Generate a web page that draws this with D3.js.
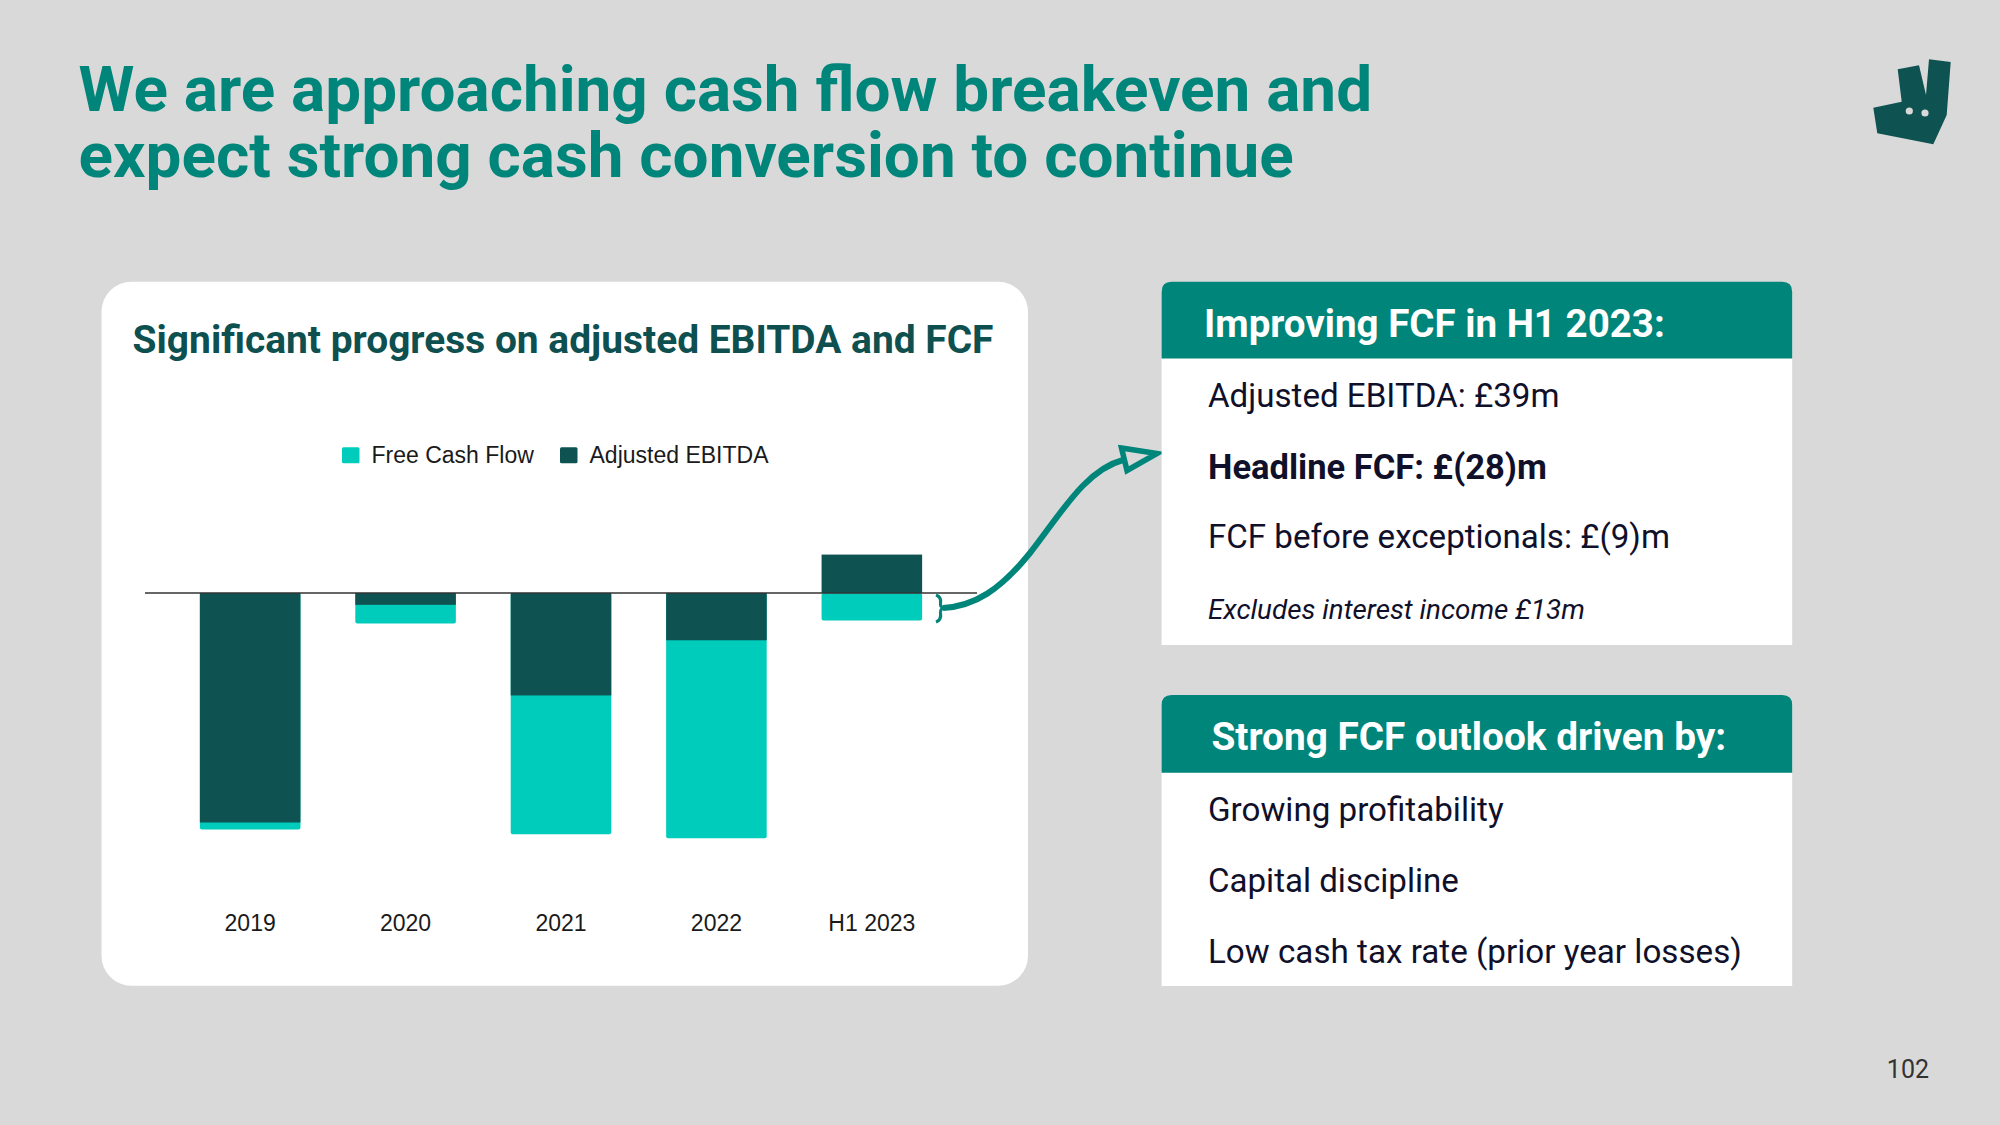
<!DOCTYPE html>
<html>
<head>
<meta charset="utf-8">
<script src="https://cdn.jsdelivr.net/npm/d3@7"></script>
<style>
  html, body { margin: 0; padding: 0; background: #d9d9d9; }
  svg { display: block; }
</style>
</head>
<body>
<svg id="chart" width="2000" height="1125"></svg>
<script>
// ---- data ----
const categories = ["2019", "2020", "2021", "2022", "H1 2023"];
const freeCashFlow = [-240, -31, -245, -249, -28];     // £m
const adjustedEbitda = [-233, -12, -104, -48, 39];     // £m
const seriesNames = ["Free Cash Flow", "Adjusted EBITDA"];
const titleLines = ["We are approaching cash flow breakeven and", "expect strong cash conversion to continue"];
const chartTitle = "Significant progress on adjusted EBITDA and FCF";
const box1Header = "Improving FCF in H1 2023:";
const box1Lines = ["Adjusted EBITDA: £39m", "Headline FCF: £(28)m", "FCF before exceptionals: £(9)m", "Excludes interest income £13m"];
const box2Header = "Strong FCF outlook driven by:";
const box2Lines = ["Growing profitability", "Capital discipline", "Low cash tax rate (prior year losses)"];
const pageNumber = "102";

// ---- styles ----
const BG = "#d9d9d9", TEAL = "#00857a", DARK = "#0e5252", LIGHT = "#00ccbc", INK = "#10102a";

const svg = d3.select("#chart");
svg.append("rect").attr("width", 2000).attr("height", 1125).attr("fill", BG);

function fit(sel, targetW) {
  const w = sel.node().getComputedTextLength();
  const fs = parseFloat(sel.attr("font-size"));
  sel.attr("font-size", (fs * targetW / w).toFixed(2));
  return sel;
}

// ---- page title (one text element, two lines) ----
const title = svg.append("text")
  .attr("font-family", "Roboto").attr("font-weight", 700).attr("font-size", 64)
  .attr("fill", TEAL);
const tspans = titleLines.map((t, i) => title.append("tspan").attr("x", 78.6).attr("y", i === 0 ? 111 : 177).text(t));
{
  const w = tspans[0].node().getComputedTextLength();
  title.attr("font-size", (64 * 1293.6 / w).toFixed(2));
}

// ---- logo ----
const logo = svg.append("g");
logo.append("path")
  .attr("d", "M1897.7,69.3 L1919,65.3 L1926,95 L1929,59.3 L1950.7,62 L1946.7,115 L1933.3,144.3 L1877.3,133.3 L1873.3,107.7 L1901.7,101.7 Z")
  .attr("fill", DARK);
logo.append("circle").attr("cx", 1909.3).attr("cy", 111).attr("r", 3.6).attr("fill", BG);
logo.append("circle").attr("cx", 1925).attr("cy", 113).attr("r", 3.6).attr("fill", BG);

// ---- chart card ----
svg.append("rect").attr("x", 101.5).attr("y", 281.7).attr("width", 926.5).attr("height", 704)
  .attr("rx", 30).attr("fill", "#ffffff");

fit(svg.append("text").attr("x", 132.6).attr("y", 352.7)
  .attr("font-family", "Roboto").attr("font-weight", 700).attr("font-size", 38)
  .attr("fill", "#0e4f50").text(chartTitle), 861);

// legend
const legendX = [342, 560];
const legendColors = [LIGHT, DARK];
seriesNames.forEach((n, i) => {
  svg.append("rect").attr("x", legendX[i]).attr("y", 447.2).attr("width", 17.5).attr("height", 16)
    .attr("rx", 1.5).attr("fill", legendColors[i]);
  svg.append("text").attr("x", legendX[i] + 29.5).attr("y", 462.5)
    .attr("font-family", "Liberation Sans, Arial, sans-serif").attr("font-size", 23)
    .attr("fill", "#1a1a1a").text(n);
});

// scales
const x = d3.scaleBand().domain(categories).range([145, 977]).padding(0.353);
const y = d3.scaleLinear().domain([0, -250]).range([593, 593 + 246.25]);

const rows = categories.map((c, i) => ({ c, fcf: freeCashFlow[i], ebitda: adjustedEbitda[i] }));

// FCF bars (behind)
svg.append("g").selectAll("rect").data(rows).join("rect")
  .attr("x", d => x(d.c)).attr("width", x.bandwidth())
  .attr("y", d => Math.min(y(0), y(d.fcf)))
  .attr("height", d => Math.abs(y(d.fcf) - y(0)))
  .attr("rx", 2)
  .attr("fill", LIGHT);

// EBITDA bars (front)
svg.append("g").selectAll("rect").data(rows).join("rect")
  .attr("x", d => x(d.c)).attr("width", x.bandwidth())
  .attr("y", d => Math.min(y(0), y(d.ebitda)))
  .attr("height", d => Math.abs(y(d.ebitda) - y(0)))
  .attr("fill", DARK);

// zero line
svg.append("line").attr("x1", 145).attr("x2", 977).attr("y1", y(0)).attr("y2", y(0))
  .attr("stroke", "#333").attr("stroke-width", 1.5);

// category axis
const axis = svg.append("g").attr("transform", "translate(0,914.4)")
  .call(d3.axisBottom(x).tickSize(0).tickPadding(0));
axis.select(".domain").remove();
axis.selectAll("text").attr("font-family", "Liberation Sans, Arial, sans-serif")
  .attr("font-size", 23).attr("fill", "#1a1a1a");

// ---- arrow from H1 2023 FCF to box ----
svg.append("path")
  .attr("d", "M936,595 Q941.5,597 940.5,603 Q940,608 945,608 Q940,608 940.5,613 Q941.5,620 936,622")
  .attr("fill", "none").attr("stroke", TEAL).attr("stroke-width", 3.2);
svg.append("path")
  .attr("d", "M943,608 C975,606 1000,590 1030,553 C1060,515 1085,470 1123,460")
  .attr("fill", "none").attr("stroke", TEAL).attr("stroke-width", 6);
svg.append("path")
  .attr("d", "M1121.5,448 L1157,453.5 L1127,470.5 Z")
  .attr("fill", BG).attr("stroke", TEAL).attr("stroke-width", 5.5).attr("stroke-linejoin", "miter");

// ---- info boxes ----
function headerPath(x0, y0, w, h, r) {
  return `M${x0},${y0 + h} L${x0},${y0 + r} Q${x0},${y0} ${x0 + r},${y0} L${x0 + w - r},${y0} Q${x0 + w},${y0} ${x0 + w},${y0 + r} L${x0 + w},${y0 + h} Z`;
}
function box(top, headerBottom, bottom, header, headerX, headerBase, headerW, lines, lineBases, lineWs, lineStyles) {
  const bx = 1161.6, bw = 630.6;
  svg.append("rect").attr("x", bx).attr("y", top + 8).attr("width", bw).attr("height", bottom - top - 8).attr("fill", "#fff");
  svg.append("path").attr("d", headerPath(bx, top, bw, headerBottom - top, 10)).attr("fill", TEAL);
  fit(svg.append("text").attr("x", headerX).attr("y", headerBase)
    .attr("font-family", "Roboto").attr("font-weight", 700).attr("font-size", 37)
    .attr("fill", "#fff").text(header), headerW);
  lines.forEach((t, i) => {
    const st = lineStyles[i];
    const s = svg.append("text").attr("x", 1208).attr("y", lineBases[i])
      .attr("font-family", "Roboto").attr("font-weight", st.w).attr("font-style", st.i ? "italic" : "normal")
      .attr("font-size", st.fs).attr("fill", INK).text(t);
    fit(s, lineWs[i]);
  });
}
box(281.7, 358.5, 645, box1Header, 1204, 336.7, 461,
  box1Lines, [407.3, 479, 548.3, 619.3], [351.6, 339, 462, 377],
  [{ w: 400, fs: 33 }, { w: 700, fs: 33 }, { w: 400, fs: 33 }, { w: 400, fs: 25, i: true }]);
box(695, 772.7, 986, box2Header, 1211.4, 750, 515,
  box2Lines, [820.7, 891.7, 962.7], [295.6, 250.9, 534],
  [{ w: 400, fs: 33 }, { w: 400, fs: 33 }, { w: 400, fs: 33 }]);

// ---- page number ----
svg.append("text").attr("x", 1929).attr("y", 1077.7).attr("text-anchor", "end")
  .attr("font-family", "Roboto").attr("font-size", 25).attr("fill", "#333").text(pageNumber);
</script>
</body>
</html>
